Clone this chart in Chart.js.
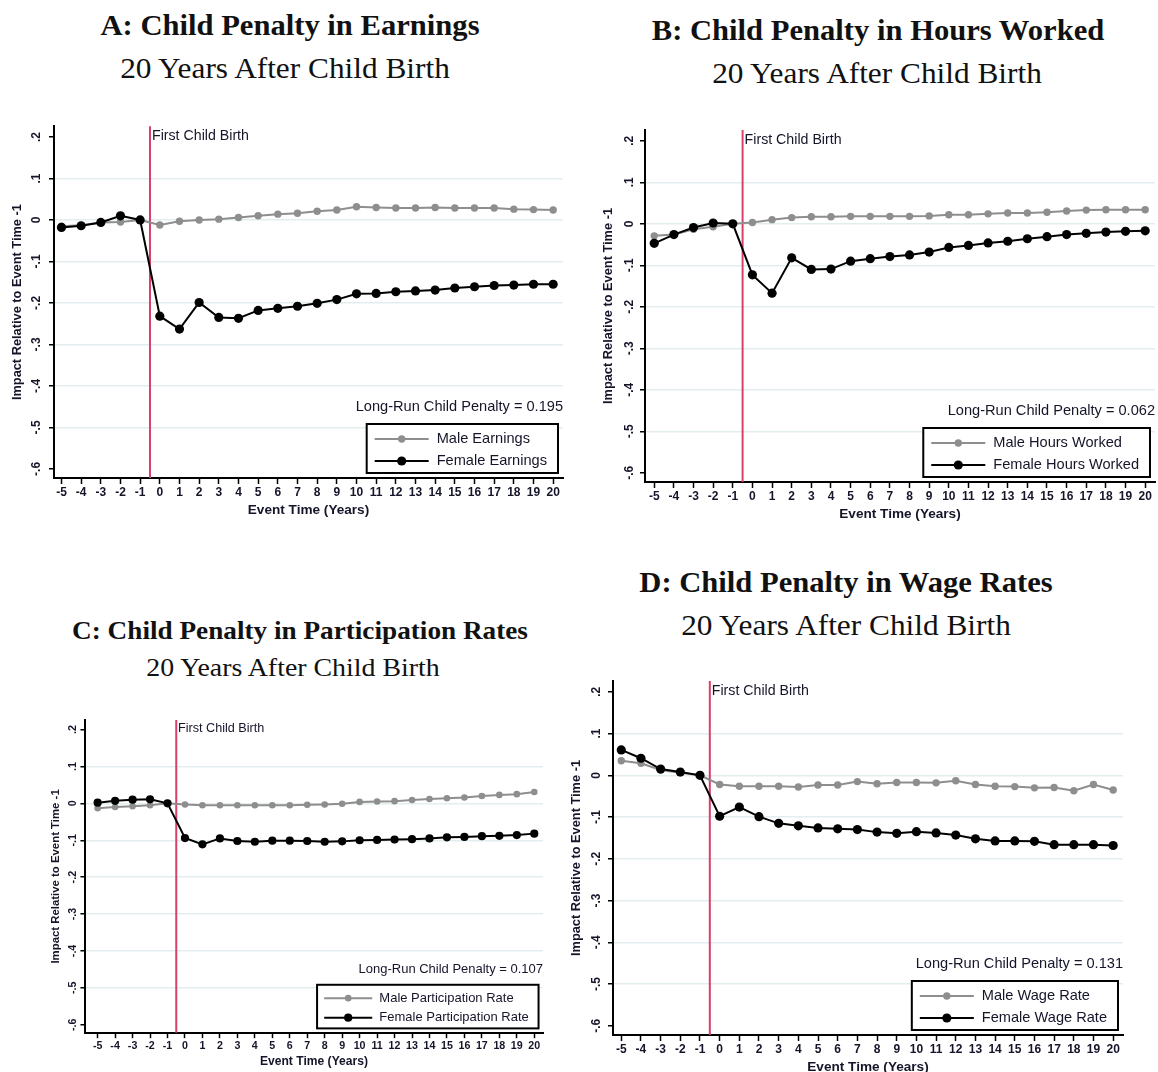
<!DOCTYPE html>
<html>
<head>
<meta charset="utf-8">
<script src="https://cdn.jsdelivr.net/npm/chart.js@4.4.1/dist/chart.umd.min.js"></script>
<style>
  body { margin: 0; background: #fff; width: 1158px; height: 1072px; position: relative; overflow: hidden; }
  .t { position: absolute; width: 700px; text-align: center; font-family: "Liberation Serif", serif;
       color: #111; white-space: nowrap; transform-origin: 50% 0; }
  .t.b { font-weight: bold; }
  canvas { position: absolute; }
</style>
</head>
<body>
<script>
// event time axis
const eventTimes = [-5, -4, -3, -2, -1, 0, 1, 2, 3, 4, 5, 6, 7, 8, 9, 10, 11, 12, 13, 14, 15, 16, 17, 18, 19, 20]
const yTickValues = [-0.6, -0.5, -0.4, -0.3, -0.2, -0.1, 0, 0.1, 0.2]
const yTickLabels = ["-.6", "-.5", "-.4", "-.3", "-.2", "-.1", "0", ".1", ".2"]
const birthLine = -0.5

// A: earnings
const maleEarnings = [-0.015, -0.013, -0.006, -0.005, 0, -0.012, -0.003, 0.000, 0.002, 0.006, 0.010, 0.014, 0.016,
    0.021, 0.024, 0.032, 0.030, 0.029, 0.029, 0.030, 0.029, 0.029, 0.029, 0.026, 0.025, 0.024]
const femaleEarnings = [-0.018, -0.014, -0.006, 0.010, 0, -0.232, -0.263, -0.199, -0.235, -0.237, -0.218, -0.213, -0.208,
    -0.201, -0.192, -0.178, -0.177, -0.173, -0.171, -0.169, -0.164, -0.161, -0.158, -0.157, -0.155, -0.155]

// B: hours worked
const maleHours = [-0.029, -0.026, -0.013, -0.007, 0, 0.003, 0.010, 0.015, 0.017, 0.017, 0.018, 0.018, 0.018,
    0.018, 0.019, 0.022, 0.022, 0.024, 0.026, 0.026, 0.028, 0.031, 0.033, 0.034, 0.034, 0.034]
const femaleHours = [-0.047, -0.026, -0.009, 0.002, 0, -0.123, -0.167, -0.082, -0.110, -0.109, -0.090, -0.084, -0.079,
    -0.075, -0.068, -0.057, -0.052, -0.046, -0.042, -0.036, -0.031, -0.026, -0.023, -0.020, -0.018, -0.017]

// C: participation
const maleParticipation = [-0.013, -0.010, -0.008, -0.005, 0, -0.003, -0.005, -0.005, -0.005, -0.005, -0.005, -0.005, -0.004,
    -0.003, -0.001, 0.004, 0.005, 0.006, 0.009, 0.012, 0.014, 0.016, 0.020, 0.023, 0.025, 0.031]
const femaleParticipation = [0.002, 0.007, 0.010, 0.011, 0, -0.094, -0.111, -0.095, -0.102, -0.104, -0.101, -0.101, -0.102,
    -0.104, -0.103, -0.100, -0.099, -0.098, -0.097, -0.095, -0.092, -0.091, -0.089, -0.088, -0.086, -0.082]

// D: wage rates
const maleWage = [0.035, 0.029, 0.013, 0.006, 0, -0.022, -0.026, -0.026, -0.026, -0.028, -0.023, -0.023, -0.015,
    -0.020, -0.017, -0.017, -0.018, -0.013, -0.022, -0.026, -0.027, -0.030, -0.029, -0.037, -0.022, -0.035]
const femaleWage = [0.061, 0.041, 0.015, 0.008, 0, -0.098, -0.076, -0.099, -0.115, -0.121, -0.126, -0.128, -0.130,
    -0.136, -0.139, -0.135, -0.138, -0.143, -0.152, -0.157, -0.157, -0.158, -0.166, -0.166, -0.166, -0.168]

const panels = [
    { title: "A: Child Penalty in Earnings", tx: 290, tTop: 11, sx: 285, sTop: 54,
      area: { l: 54, t: 126, r: 563, b: 478 }, xMin: -5.38, s: 1, titleGap: 37, tickGap: 17,
      penalty: "0.195", male: ["Male Earnings", maleEarnings], female: ["Female Earnings", femaleEarnings] },
    { title: "B: Child Penalty in Hours Worked", tx: 878, tTop: 16, sx: 877, sTop: 59,
      area: { l: 645, t: 130, r: 1155, b: 482 }, xMin: -5.47, s: 1, titleGap: 37, tickGap: 15,
      penalty: "0.062", male: ["Male Hours Worked", maleHours], female: ["Female Hours Worked", femaleHours] },
    { title: "C: Child Penalty in Participation Rates", tx: 300, tTop: 618, sx: 293, sTop: 655,
      area: { l: 85, t: 720, r: 543, b: 1033 }, xMin: -5.73, s: 0.89, titleGap: 29, tickGap: 12,
      penalty: "0.107", male: ["Male Participation Rate", maleParticipation], female: ["Female Participation Rate", femaleParticipation] },
    { title: "D: Child Penalty in Wage Rates", tx: 846, tTop: 568, sx: 846, sTop: 611,
      area: { l: 613, t: 681, r: 1123, b: 1035 }, xMin: -5.42, s: 1, titleGap: 37, tickGap: 16,
      penalty: "0.131", male: ["Male Wage Rate", maleWage], female: ["Female Wage Rate", femaleWage] }
]

const SANS = '"Liberation Sans", Arial, sans-serif'
const TXT = "#15152a"
const MALE = "#8e8e8e"
const FEMALE = "#000000"

const measure = document.createElement("canvas").getContext("2d")

// red birth line, label, penalty note and the boxed legend
const extras = {
    id: "extras",
    beforeDatasetsDraw(chart, args, o) {
        const { ctx, chartArea: a, scales: { x } } = chart
        const s = o.s
        const px = x.getPixelForValue(birthLine)
        ctx.save()
        ctx.strokeStyle = "#d8406a"
        ctx.lineWidth = 2
        ctx.beginPath()
        ctx.moveTo(px, a.top)
        ctx.lineTo(px, a.bottom)
        ctx.stroke()
        ctx.fillStyle = TXT
        ctx.font = `${14.2 * s}px ${SANS}`
        ctx.textBaseline = "middle"
        ctx.fillText("First Child Birth", px + 2 * s, a.top + 10 * s)
        ctx.restore()
    },
    afterDraw(chart, args, o) {
        const { ctx, chartArea: a } = chart
        const s = o.s
        ctx.save()
        ctx.fillStyle = TXT
        ctx.font = `${14.6 * s}px ${SANS}`
        ctx.textBaseline = "middle"
        ctx.textAlign = "right"
        ctx.fillText("Long-Run Child Penalty = " + o.penalty, a.right, a.bottom - 71 * s)

        ctx.font = `${14.6 * s}px ${SANS}`
        const tw = Math.max(...o.entries.map(e => ctx.measureText(e.label).width))
        const w = 8 * s + 54 * s + 8 * s + tw + 11 * s
        const h = 49 * s
        const right = a.right - 5 * s
        const bottom = a.bottom - 5 * s
        const left = right - w
        const top = bottom - h
        ctx.fillStyle = "#fff"
        ctx.fillRect(left, top, w, h)
        ctx.strokeStyle = "#000"
        ctx.lineWidth = 2
        ctx.strokeRect(left, top, w, h)
        o.entries.forEach((e, i) => {
            const cy = top + (i === 0 ? 15 : 37) * s
            const x0 = left + 8 * s
            ctx.strokeStyle = e.color
            ctx.lineWidth = 2
            ctx.beginPath()
            ctx.moveTo(x0, cy)
            ctx.lineTo(x0 + 54 * s, cy)
            ctx.stroke()
            ctx.fillStyle = e.color
            ctx.beginPath()
            ctx.arc(x0 + 27 * s, cy, e.r * s, 0, Math.PI * 2)
            ctx.fill()
            ctx.fillStyle = TXT
            ctx.textAlign = "left"
            ctx.fillText(e.label, x0 + 62 * s, cy)
        })
        ctx.restore()
    }
}

panels.forEach(p => {
    const s = p.s
    const a = p.area
    const W = p.titleGap + 10 * s
    const T = 12
    const R = 12
    const H = 44 * s

    const t1 = document.createElement("div")
    t1.className = "t b"
    t1.textContent = p.title
    t1.style.fontSize = (29 * s) + "px"
    t1.style.lineHeight = (29 * s) + "px"
    t1.style.transform = "scaleX(1.055)"
    t1.style.left = (p.tx - 350) + "px"
    t1.style.top = p.tTop + "px"
    document.body.appendChild(t1)
    const t2 = document.createElement("div")
    t2.className = "t"
    t2.textContent = "20 Years After Child Birth"
    t2.style.fontSize = (29 * s) + "px"
    t2.style.lineHeight = (29 * s) + "px"
    t2.style.transform = "scaleX(1.08)"
    t2.style.left = (p.sx - 350) + "px"
    t2.style.top = p.sTop + "px"
    document.body.appendChild(t2)

    const cv = document.createElement("canvas")
    const cw = Math.round(W + (a.r - a.l) + R)
    const ch = Math.round(T + (a.b - a.t) + H)
    cv.width = cw
    cv.height = ch
    cv.style.width = cw + "px"
    cv.style.height = ch + "px"
    cv.style.left = (a.l - W) + "px"
    cv.style.top = (a.t - T) + "px"
    document.body.appendChild(cv)

    const tickFont = { family: SANS, size: 12 * s, weight: "bold" }
    measure.font = `bold ${12 * s}px ${SANS}`
    const widest = Math.max(...yTickLabels.map(l => measure.measureText(l).width))
    const tl = 5 * s
    const yTitleSize = 12.8 * s
    const xTitleSize = 13.6 * s

    new Chart(cv, {
        type: "line",
        data: {
            datasets: [
                { label: p.female[0], data: eventTimes.map((t, i) => ({ x: t, y: p.female[1][i] })),
                  borderColor: FEMALE, backgroundColor: FEMALE, borderWidth: 2, pointRadius: 4.6 * s,
                  pointBorderWidth: 0, order: 0 },
                { label: p.male[0], data: eventTimes.map((t, i) => ({ x: t, y: p.male[1][i] })),
                  borderColor: MALE, backgroundColor: MALE, borderWidth: 2, pointRadius: 3.7 * s,
                  pointBorderWidth: 0, order: 1 }
            ]
        },
        options: {
            responsive: false,
            animation: false,
            layout: { padding: { top: T, right: R, left: 0, bottom: 0 } },
            scales: {
                x: {
                    type: "linear", min: p.xMin, max: 20.5,
                    afterFit: sc => { sc.height = H },
                    afterBuildTicks: sc => { sc.ticks = eventTimes.map(v => ({ value: v })) },
                    ticks: { autoSkip: false, maxRotation: 0, minRotation: 0, color: TXT, font: tickFont,
                             padding: 1.4 * s, callback: v => String(v) },
                    grid: { drawOnChartArea: false, drawTicks: true, tickLength: 6 * s, tickColor: "#000", tickWidth: 1.5 },
                    border: { color: "#000", width: 2 },
                    title: { display: true, text: "Event Time (Years)", color: TXT,
                             font: { family: SANS, size: xTitleSize, weight: "bold" },
                             padding: { top: 0, bottom: 44 * s - 32 * s - 0.6 * xTitleSize } }
                },
                y: {
                    min: -0.622, max: 0.226,
                    afterFit: sc => { sc.width = W },
                    afterBuildTicks: sc => { sc.ticks = yTickValues.map(v => ({ value: v })) },
                    ticks: { minRotation: 90, maxRotation: 90, crossAlign: "center", color: TXT, font: tickFont,
                             padding: p.tickGap - tl - widest / 2,
                             callback: v => yTickLabels[yTickValues.findIndex(t => Math.abs(t - v) < 1e-6)] },
                    grid: { drawTicks: true, tickLength: tl, tickColor: "#000", tickWidth: 1.5, lineWidth: 1.5,
                            color: c => (c.tick && (c.tick.value > 0.15 || c.tick.value < -0.55)) ? "rgba(0,0,0,0)" : "#e3edf0" },
                    border: { color: "#000", width: 2 },
                    title: { display: true, text: "Impact Relative to Event Time -1", color: TXT,
                             font: { family: SANS, size: yTitleSize, weight: "bold" },
                             padding: { top: 10 * s - 0.6 * yTitleSize, bottom: 0 } }
                }
            },
            plugins: {
                legend: { display: false },
                tooltip: { enabled: false },
                extras: {
                    s, penalty: p.penalty,
                    entries: [
                        { label: p.male[0], color: MALE, r: 3.7 },
                        { label: p.female[0], color: FEMALE, r: 4.6 }
                    ]
                }
            }
        },
        plugins: [extras]
    })
})
</script>
</body>
</html>
